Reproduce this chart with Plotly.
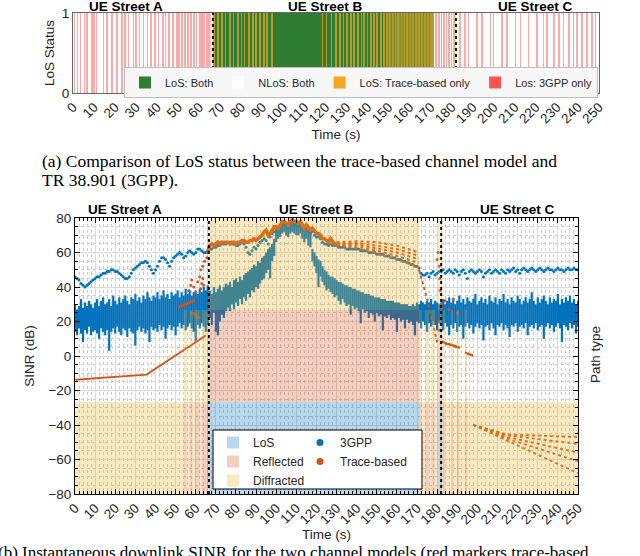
import numpy as np
import plotly.graph_objects as go

# ---------------- common ----------------
STREET_BOUNDS = [66.5, 182.0]
STREET_LABELS = ["UE Street A", "UE Street B", "UE Street C"]
STREET_LABEL_T = [25, 120, 220]
X_TICKS = list(range(0, 251, 10))

# ---------------- (a) LoS status stripes: start (s), duration (s) ----------------
NLOS_BOTH_START = [0.0, 171.5]
NLOS_BOTH_DUR = [66.5, 78.5]
LOS_BOTH_START = [66.5]
LOS_BOTH_DUR = [105.0]
TRACE_ONLY_START = [67.0, 68.9, 70.6, 72.4, 74.6, 76.2, 78.1, 79.9, 81.3, 83.4, 85.2, 86.7,
                    88.8, 90.5, 92.2, 94.3,
                    118.5, 120.4, 122.7, 124.9, 126.8, 128.5, 130.0, 131.9, 133.4, 135.0,
                    136.9, 138.2, 139.8, 141.5, 142.9, 144.4, 146.0, 147.7, 149.2,
                    150.0, 151.4, 152.8, 154.0, 155.6, 157.0, 158.2, 159.8, 161.0, 162.5, 164.0,
                    165.2, 166.8, 168.0, 169.5, 180.6]
TRACE_ONLY_DUR = [0.4, 0.3, 0.4, 0.3, 0.4, 0.3, 0.4, 0.3, 0.4, 0.3, 0.4, 0.3,
                  0.4, 0.3, 0.4, 0.3,
                  0.3, 0.3, 0.4, 0.3, 0.4, 0.3, 0.4, 0.3, 0.4, 0.5,
                  0.4, 0.5, 0.4, 0.5, 0.6, 0.5, 0.6, 0.5, 0.6,
                  1.1, 1.1, 1.0, 1.3, 1.1, 1.0, 1.3, 1.0, 1.2, 1.3, 1.0,
                  1.4, 1.0, 1.3, 2.0, 1.2]
GPP_ONLY_START = [0.6, 2.0, 3.4, 5.3, 6.5, 8.6, 9.7, 11.2, 14.3, 15.9, 18.3, 20.7, 23.0, 24.6, 26.2,
                  28.6, 29.8, 31.4, 33.3, 35.2, 36.8, 38.8, 40.4, 42.5, 44.0, 45.6, 47.5, 49.1, 50.3,
                  51.6, 53.0, 54.6, 55.9, 57.3, 58.6, 59.9, 61.0, 62.1, 63.4, 64.6,
                  172.5, 173.8, 175.0, 176.1, 177.4, 178.6, 179.7,
                  183.9, 186.3, 187.9, 191.9, 194.2, 198.2, 199.8, 203.7, 206.1, 210.1, 212.5, 216.4,
                  220.4, 223.5, 225.1, 228.3, 230.7, 233.0, 235.4, 237.8, 239.4, 241.8, 244.1, 246.5,
                  248.1]
GPP_ONLY_DUR = [0.3, 0.2, 0.4, 0.3, 0.2, 0.5, 0.3, 0.2, 0.4, 0.3, 0.3, 0.6, 0.3, 0.2, 0.4,
                0.3, 0.5, 0.2, 0.3, 0.4, 0.3, 0.6, 0.3, 0.4, 0.2, 0.5, 0.3, 0.7, 0.3,
                0.4, 0.6, 0.3, 0.4, 0.7, 0.3, 0.5, 0.4, 0.6, 0.3, 0.8,
                0.3, 0.4, 0.3, 0.5, 0.3, 0.4, 0.3,
                0.3, 0.4, 0.2, 0.3, 0.4, 0.3, 0.2, 0.4, 0.3, 0.3, 0.4, 0.3,
                0.4, 0.3, 0.2, 0.4, 0.3, 0.3, 0.4, 0.3, 0.2, 0.4, 0.3, 0.3,
                0.4]

# ---------------- (b) path type segments: start, end, LoS/Reflected/Diffracted flags ----------------
SEG_START = [0, 52, 54, 55.5, 57, 58.5, 59.5, 62, 63, 66.5, 171, 172.5, 174, 176, 177, 179, 180.3,
             181.5, 182, 183.2, 184, 187, 187.8, 190, 190.6, 194, 194.6]
SEG_END = [52, 54, 55.5, 57, 58.5, 59.5, 62, 63, 66.5, 171, 172.5, 174, 176, 177, 179, 180.3, 181.5,
           182, 183.2, 184, 187, 187.8, 190, 190.6, 194, 194.6, 250]
HAS_LOS = [0, 0, 0, 0, 0, 0, 0, 0, 0, 1, 0, 0, 0, 0, 0, 0, 1, 0, 0, 0, 0, 0, 0, 0, 0, 0, 0]
HAS_REFL = [0, 0, 1, 0, 1, 0, 1, 0, 1, 1, 1, 0, 1, 0, 1, 0, 1, 1, 0, 1, 0, 1, 0, 1, 0, 1, 0]
HAS_DIFF = [1, 1, 1, 1, 1, 1, 1, 1, 1, 1, 1, 1, 1, 1, 1, 1, 1, 1, 1, 1, 1, 1, 1, 1, 1, 1, 1]

# ---------------- (b) 3GPP SINR (dB), one value per second from t = 0 ----------------
GPP_HIGH = [30, 27, 29, 33, 28, 31, 29, 32, 30, 28,
            31, 33, 29, 32, 34, 30, 31, 33, 29, 35,
            32, 30, 34, 31, 33, 35, 32, 30, 34, 33,
            36, 32, 34, 31, 35, 33, 37, 34, 32, 35,
            34, 37, 33, 35, 38, 34, 36, 33, 37, 35,
            36, 38, 34, 37, 35, 39, 36, 38, 35, 37,
            38, 36, 39, 37, 40, 38, 41,
            38, 36, 40, 37, 39, 41, 38, 40, 42,
            41, 43, 40, 44, 45, 43, 46, 44, 47, 48,
            49, 50, 51, 53, 52, 55, 54, 57, 58, 60,
            62, 63, 65, 68,
            74, 73, 75, 77, 78, 77, 75, 77, 78, 77, 77, 76, 77, 75, 74, 75, 73, 72,
            62, 60, 58, 56, 55, 52, 50, 49, 47, 46,
            46, 45, 44, 43, 43, 42, 41, 41, 40, 40,
            39, 39, 38, 38, 37, 37, 36, 36, 36, 35,
            35, 34, 34, 34, 33, 33, 33, 32, 32, 32,
            32, 31, 31, 31, 30, 30, 30, 30, 29, 29,
            30, 29, 31, 30, 32, 31, 30, 32, 31, 33, 30, 32, 31, 30,
            31, 33, 30, 32, 34, 31, 33, 30, 32, 35,
            31, 33, 30, 34, 32, 31, 33, 36, 30, 32,
            34, 31, 33, 30, 35, 32, 31, 34, 30, 33,
            32, 36, 31, 33, 30, 34, 32, 31, 35, 33,
            30, 32, 34, 31, 33, 37, 32, 30, 34, 31,
            33, 35, 32, 30, 34, 31, 33, 32, 36, 30,
            33, 31, 34, 32, 35, 31, 33, 30, 32]
GPP_LOW = [14, 12, 16, 13, 8, 15, 13, 17, 12, 14,
           15, 13, 10, 16, 14, 12, 15, 3, 14, 16,
           13, 17, 14, 12, 16, 15, 11, 16, 14, 13,
           6, 15, 17, 14, 16, 13, 15, 8, 17, 15,
           16, 14, 18, 15, 17, 10, 16, 18, 15, 17,
           12, 17, 19, 16, 18, 15, 17, 19, 16, 14,
           8, 18, 16, 19, 17, 14, 18,
           22, 18, 25, 14, 12, 20, 24, 22, 26,
           28, 26, 30, 27, 31, 29, 33, 30, 34, 32,
           36, 34, 38, 37, 40, 39, 42, 44, 45, 48,
           50, 45, 55, 58,
           66, 68, 69, 71, 72, 70, 69, 71, 72, 71, 70, 70, 71, 68, 66, 68, 64, 63,
           55, 52, 48, 40, 46, 43, 41, 38, 39, 37,
           36, 34, 35, 32, 30, 33, 31, 29, 30, 24,
           29, 27, 28, 26, 19, 27, 25, 26, 22, 25,
           24, 20, 25, 23, 24, 15, 23, 22, 24, 21,
           22, 21, 14, 22, 20, 21, 16, 21, 19, 20,
           18, 12, 20, 19, 16, 20, 18, 14, 19, 17, 20, 18, 15, 19,
           18, 15, 19, 17, 12, 18, 16, 19, 14, 17,
           18, 10, 17, 19, 16, 18, 13, 17, 19, 16,
           18, 9, 17, 18, 15, 19, 16, 12, 18, 17,
           19, 15, 18, 16, 11, 18, 17, 19, 14, 17,
           18, 16, 19, 12, 17, 18, 16, 19, 15, 17,
           18, 10, 17, 19, 16, 18, 14, 17, 19, 16,
           8, 18, 17, 15, 19, 16, 18, 13, 17]
GPP_UPPER = [46, 45, 44, 42, 41, 40, 41, 42, 43, 44,
             45, 46, 46, 47, 48, 48, 49, 49, 50, 50,
             49, 49, 48, 47, 46, 45, 45, 46, 48, 50,
             51, 52, 53, 54, 54, 55, 54, 52, 50, 48,
             50, 52, 55, 57, 57, 56, 54, 52, 55, 57,
             58, 59, 60, 59, 57, 58, 60, 61, 60, 59,
             60, 62, 62, 61, 60, 60, 61,
             62, 62, 63, 63, 64, 64, 65, 65, 65, 66,
             66, 65, 65, 64, 64, 65, 66, 65, 63, 60,
             59, 61, 63, 62, 64, 66, 67, 68, 67, 65,
             69, 71, 72, 73, 72, 74, 76, 77, 76, 74,
             76, 77, 76, 76, 75, 76, 74, 73, 74, 72,
             71, 72, 70, 69, 69, 68, 66, 65, 65, 64,
             65, 64, 64, 64, 63, 63, 63, 63, 62, 62,
             62, 62, 62, 62, 62, 61, 61, 61, 61, 60,
             60, 60, 60, 59, 59, 59, 59, 58, 58, 58,
             57, 57, 57, 56, 56, 56, 55, 55, 54, 54,
             53, 53, 52, 52, 51,
             48, 47, 47, 48, 46, 48, 49, 47, 48, 49,
             49, 50, 48, 49, 50, 49, 48, 50, 49, 47,
             49, 50, 48, 45, 49, 50, 49, 48, 49, 50,
             49, 46, 48, 49, 50, 48, 49, 50, 49, 48,
             50, 49, 48, 50, 49, 50, 51, 49, 50, 48,
             50, 51, 50, 49, 50, 51, 50, 49, 50, 51,
             50, 49, 50, 51, 50, 50, 49, 50, 51, 50,
             50, 49, 50, 51, 50, 50, 51, 50, 50]

# ---------------- (b) Trace-based SINR (dB) ----------------
TRACE_A_LINE_T = [0, 35.6, 59.6, 65]
TRACE_A_LINE_V = [-13.7, -10.8, 7.7, 12]
TRACE_SCAT_T = [52, 53, 54, 55, 56, 57, 58, 59, 58.5, 59.5, 60.5, 61.5, 56.5, 57.5, 58, 59, 60, 61,
                62, 62.5, 63, 63.5, 64, 62.5, 63.5, 64.5, 65.5, 66,
                180, 180.5, 181, 181.2, 181.5, 181.8, 182.5, 184, 186, 188, 190, 181, 181.3]
TRACE_SCAT_V = [28.5, 29, 29.5, 30, 30.5, 31, 31.5, 32, 25, 24, 23, 22.5, 38, 41, 44, 40, 37, 43,
                46, 39, 42, 45, 41, 50, 52, 55, 57, 60,
                56, 60, 52, 45, 38, 30, 28, 32, 27, 33, 25, 20, 15]
TRACE_B_T0 = 66
TRACE_B = [61, 64, 65, 64, 65, 66, 65, 66, 66, 66,
           66, 65, 66, 66, 65, 66, 66, 67, 67, 66,
           66, 67, 67, 68, 67, 68, 69, 70, 72, 73,
           70, 71, 73, 75, 75, 74, 76, 78, 78, 77,
           76, 78, 79, 78, 78, 77, 78, 76, 74, 76,
           74, 73, 74, 72, 71, 71, 70, 68, 68, 67,
           66, 68, 66, 65, 65]
TRACE_FAN_B_T = [130, 140, 150, 160, 171]
TRACE_FAN_B = [[66, 66.5, 66, 64, 60],
               [65, 65.5, 64, 62, 58],
               [65, 64.5, 62.5, 60, 56],
               [64.5, 63.5, 61, 58, 54],
               [64, 62.5, 59.5, 56, 51.5]]
TRACE_DROP_T = [171, 172, 173, 174, 175, 176, 177, 178, 179, 180]
TRACE_DROP_V = [50, 46, 42, 38, 33, 28, 23, 18, 13, 8]
TRACE_C1_T = [182.2, 183, 184, 185, 186, 187, 188, 189, 190, 191.3]
TRACE_C1_V = [8.5, 8, 7.5, 7, 6.8, 6.3, 6, 5.6, 5.2, 4.8]
TRACE_C2_T = [193.8, 195, 196, 197, 198]
TRACE_C2_V = [2, 1.5, 1, 0.6, 0.2]
TRACE_FAN_C_T = [198, 215, 250]
TRACE_FAN_C = [[-40, -49, -68],
               [-40, -48, -61],
               [-40, -47, -56],
               [-40, -46, -51],
               [-40, -45.5, -47]]

BLUE = "#0072BD"
ORANGE = "#D95319"
YELLOW = "#EDB120"
FONT = "Liberation Sans, Arial, sans-serif"

fig = go.Figure()


def centers(start, dur):
    return [s + d / 2 for s, d in zip(start, dur)]


# ---- (a) stripes ----
top_sets = [
    ("NLoS: Both", NLOS_BOTH_START, NLOS_BOTH_DUR, "#FFFFFF", 1.0, 2),
    ("LoS: Both", LOS_BOTH_START, LOS_BOTH_DUR, "#2E7D32", 1.0, 1),
    ("LoS: Trace-based only", TRACE_ONLY_START, TRACE_ONLY_DUR, "#F5A623", 0.7, 3),
    ("Los: 3GPP only", GPP_ONLY_START, GPP_ONLY_DUR, "#FF5252", 0.5, 4),
]
for name, st, du, col, op, rank in top_sets:
    fig.add_trace(go.Bar(x=centers(st, du), y=[1] * len(st), width=du, base=[0] * len(st),
                         marker=dict(color=col, opacity=op, line=dict(width=0)), name=name,
                         showlegend=False, xaxis="x", yaxis="y", hoverinfo="skip"))
    # legend swatch (full colour)
    fig.add_trace(go.Bar(x=[None], y=[None], marker=dict(color=col, line=dict(width=0)),
                         name=name, legend="legend3", legendrank=rank, xaxis="x", yaxis="y"))
for b in STREET_BOUNDS:
    fig.add_trace(go.Scatter(x=[b, b], y=[0, 1], mode="lines", xaxis="x", yaxis="y",
                             line=dict(color="black", width=2, dash="dot"), showlegend=False,
                             hoverinfo="skip"))

# ---- (b) 3GPP ----
t_grid = np.arange(len(GPP_HIGH))
nx, ny = [], []
for t, lo, hi in zip(t_grid, GPP_LOW, GPP_HIGH):
    nx += [t, t, None]
    ny += [lo, hi, None]
fig.add_trace(go.Scatter(x=nx, y=ny, mode="lines", line=dict(color=BLUE, width=2.2),
                         xaxis="x2", yaxis="y2", showlegend=False, hoverinfo="skip"))
fig.add_trace(go.Scatter(x=np.arange(len(GPP_UPPER)), y=GPP_UPPER, mode="markers",
                         marker=dict(color=BLUE, size=3), showlegend=False,
                         xaxis="x2", yaxis="y2"))

# ---- (b) trace-based ----
fig.add_trace(go.Scatter(x=TRACE_A_LINE_T, y=TRACE_A_LINE_V, mode="lines",
                         line=dict(color=ORANGE, width=2), xaxis="x2", yaxis="y2", showlegend=False))
fig.add_trace(go.Scatter(x=TRACE_B_T0 + np.arange(len(TRACE_B)), y=TRACE_B, mode="lines",
                         line=dict(color=ORANGE, width=3.5), xaxis="x2", yaxis="y2", showlegend=False))
for fan in TRACE_FAN_B:
    fig.add_trace(go.Scatter(x=TRACE_FAN_B_T, y=fan, mode="lines",
                             line=dict(color=ORANGE, width=2, dash="dot"), xaxis="x2", yaxis="y2",
                             showlegend=False))
fig.add_trace(go.Scatter(x=TRACE_DROP_T, y=TRACE_DROP_V, mode="lines",
                         line=dict(color=ORANGE, width=2, dash="dot"), xaxis="x2", yaxis="y2",
                         showlegend=False))
for tt, vv in [(TRACE_C1_T, TRACE_C1_V), (TRACE_C2_T, TRACE_C2_V)]:
    fig.add_trace(go.Scatter(x=tt, y=vv, mode="lines", line=dict(color=ORANGE, width=2.5),
                             xaxis="x2", yaxis="y2", showlegend=False))
for fan in TRACE_FAN_C:
    fig.add_trace(go.Scatter(x=TRACE_FAN_C_T, y=fan, mode="lines",
                             line=dict(color=ORANGE, width=1.8, dash="dot"), xaxis="x2", yaxis="y2",
                             showlegend=False))
fig.add_trace(go.Scatter(x=TRACE_SCAT_T, y=TRACE_SCAT_V, mode="markers",
                         marker=dict(color=ORANGE, size=3), showlegend=False,
                         xaxis="x2", yaxis="y2"))
# legend entries for the two models
fig.add_trace(go.Scatter(x=[None], y=[None], mode="markers", marker=dict(color=BLUE, size=7),
                         name="3GPP", legend="legend2", xaxis="x2", yaxis="y2"))
fig.add_trace(go.Scatter(x=[None], y=[None], mode="markers", marker=dict(color=ORANGE, size=7),
                         name="Trace-based", legend="legend2", xaxis="x2", yaxis="y2"))

# ---- (b) path type shading (stacked LoS / Reflected / Diffracted) ----
seg_c = [(s + e) / 2 for s, e in zip(SEG_START, SEG_END)]
seg_w = [e - s for s, e in zip(SEG_START, SEG_END)]
bases = {
    "LoS": [0] * len(SEG_START),
    "Reflected": list(HAS_LOS),
    "Diffracted": [l + r for l, r in zip(HAS_LOS, HAS_REFL)],
}
flags = {"LoS": HAS_LOS, "Reflected": HAS_REFL, "Diffracted": HAS_DIFF}
cols = {"LoS": BLUE, "Reflected": ORANGE, "Diffracted": YELLOW}
for name in ["LoS", "Reflected", "Diffracted"]:
    idx = [i for i, f in enumerate(flags[name]) if f]
    fig.add_trace(go.Bar(x=[seg_c[i] for i in idx], y=[1] * len(idx),
                         width=[seg_w[i] for i in idx], base=[bases[name][i] for i in idx],
                         marker=dict(color=cols[name], line=dict(width=0)), opacity=0.28,
                         name=name, legend="legend", xaxis="x2", yaxis="y3", hoverinfo="skip"))
for b in STREET_BOUNDS:
    fig.add_trace(go.Scatter(x=[b, b], y=[0, 3], mode="lines", xaxis="x2", yaxis="y3",
                             line=dict(color="black", width=2, dash="dot"), showlegend=False,
                             hoverinfo="skip"))

W, H = 640, 556
tickfont = dict(family=FONT, size=13.5, color="#262626")

fig.update_layout(
    width=W, height=H, margin=dict(l=0, r=0, t=0, b=0, autoexpand=False),
    paper_bgcolor="white", plot_bgcolor="white", barmode="overlay",
    font=dict(family=FONT, size=13.5, color="#262626"),
    xaxis=dict(domain=[73 / W, 599 / W], range=[0, 250], tickvals=X_TICKS, tickangle=-45,
               showgrid=False, zeroline=False, showline=True, mirror=True, linecolor="#666666",
               ticks="", tickfont=tickfont, anchor="y", automargin=False,
               title=dict(text="Time (s)", font=dict(size=13.5), standoff=4)),
    yaxis=dict(domain=[1 - 93 / H, 1 - 13 / H], range=[0, 1], tickvals=[0, 1], showgrid=False,
               zeroline=False, showline=True, mirror=True, linecolor="#666666", ticks="",
               tickfont=tickfont, anchor="x", automargin=False,
               title=dict(text="LoS Status", font=dict(size=13.5), standoff=4)),
    xaxis2=dict(domain=[75 / W, 578 / W], range=[0, 250], tickvals=X_TICKS, tickangle=-45,
                showgrid=True, gridcolor="#dadada", gridwidth=1, zeroline=False, showline=True,
                mirror="ticks", linecolor="black", ticks="inside", ticklen=5, tickcolor="black",
                tickfont=tickfont, anchor="y2", automargin=False,
                minor=dict(dtick=2, ticks="inside", ticklen=3, tickcolor="black", showgrid=True,
                           gridcolor="#cccccc", griddash="dot", gridwidth=1),
                title=dict(text="Time (s)", font=dict(size=13.5), standoff=0)),
    yaxis2=dict(domain=[1 - 494 / H, 1 - 218 / H], range=[-80, 80], dtick=20, showgrid=True,
                gridcolor="#dadada", zeroline=False, showline=True, mirror="ticks",
                linecolor="black", ticks="inside", ticklen=5, tickcolor="black",
                tickfont=tickfont, anchor="x2", automargin=False,
                minor=dict(dtick=5, ticks="inside", ticklen=3, tickcolor="black", showgrid=True,
                           gridcolor="#cccccc", griddash="dot", gridwidth=1),
                title=dict(text="SINR (dB)", font=dict(size=13.5), standoff=10)),
    yaxis3=dict(overlaying="y2", side="right", range=[0, 3], showgrid=False, zeroline=False,
                showticklabels=False, ticks="", showline=False, anchor="x2", automargin=False),
    legend=dict(x=213 / W, y=1 - 428 / H, xanchor="left", yanchor="top",
                bgcolor="rgba(0,0,0,0)", borderwidth=0, font=dict(size=12),
                tracegroupgap=0),
    legend2=dict(x=300 / W, y=1 - 428 / H, xanchor="left", yanchor="top",
                 bgcolor="rgba(0,0,0,0)", borderwidth=0, font=dict(size=12)),
    legend3=dict(orientation="h", x=124 / W, y=1 - 67 / H, xanchor="left", yanchor="top",
                 bgcolor="#F7F7F7", bordercolor="#BDBDBD", borderwidth=1, font=dict(size=11)),
)

fig.add_shape(type="rect", xref="paper", yref="paper", x0=213 / W, x1=422 / W,
              y0=1 - 489 / H, y1=1 - 430 / H, line=dict(color="black", width=1),
              fillcolor="white", layer="above")

ann = []
for lab, t in zip(STREET_LABELS, STREET_LABEL_T):
    ann.append(dict(text="<b>%s</b>" % lab, x=t, xref="x", y=1 - 6 / H, yref="paper",
                    xanchor="center", yanchor="middle",
                    showarrow=False, font=dict(size=13.5, color="black")))
    ann.append(dict(text="<b>%s</b>" % lab, x=t, xref="x2", y=1 - 209 / H, yref="paper",
                    xanchor="center", yanchor="middle",
                    showarrow=False, font=dict(size=13.5, color="black")))
ann.append(dict(text="Path type", x=595 / W, y=1 - 355 / H, xref="paper", yref="paper",
                xanchor="center", yanchor="middle",
                textangle=-90, showarrow=False, font=dict(size=13.5)))
CAP = "Liberation Serif, Times New Roman, serif"
ann.append(dict(text="(a) Comparison of LoS status between the trace-based channel model and",
                x=40 / W, y=1 - 161 / H, xref="paper", yref="paper", xanchor="left",
                yanchor="middle", showarrow=False,
                font=dict(family=CAP, size=17.5, color="black")))
ann.append(dict(text="TR 38.901 (3GPP).", x=40 / W, y=1 - 180 / H, xref="paper", yref="paper",
                xanchor="left", yanchor="middle", showarrow=False,
                font=dict(family=CAP, size=17.5, color="black")))
ann.append(dict(text="(b) Instantaneous downlink SINR for the two channel models (red markers trace-based,",
                x=-4 / W, y=1 - 552 / H, xref="paper", yref="paper", xanchor="left",
                yanchor="middle", showarrow=False,
                font=dict(family=CAP, size=17, color="black")))
fig.update_layout(annotations=ann)

fig.write_html("out.html", config={"displayModeBar": False},
               post_script="document.body.style.margin='0px';")
